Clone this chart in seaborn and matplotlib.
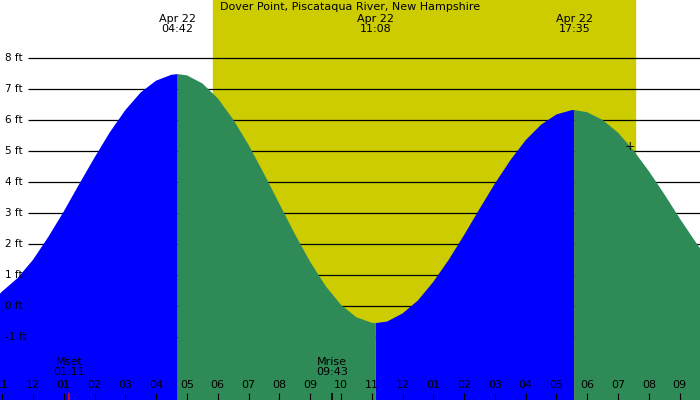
import matplotlib
matplotlib.use("Agg")
import matplotlib.pyplot as plt
import numpy as np
import pandas as pd
import seaborn as sns

# tide height (ft), hours since midnight Apr 22
hours = [-1.07, -1, -0.5, 0, 0.5, 1, 1.5, 2, 2.5, 3, 3.5, 4, 4.5, 4.7,
         5, 5.5, 6, 6.5, 7, 7.5, 8, 8.5, 9, 9.5, 10, 10.5, 11, 11.13,
         11.5, 12, 12.5, 13, 13.5, 14, 14.5, 15, 15.5, 16, 16.5, 17, 17.5, 17.58,
         18, 18.5, 19, 19.5, 20, 20.5, 21, 21.5, 22]
height = [0.40, 0.47, 0.90, 1.49, 2.23, 3.05, 3.93, 4.79, 5.61, 6.32, 6.89, 7.27, 7.46, 7.48,
          7.44, 7.18, 6.70, 6.02, 5.20, 4.27, 3.30, 2.33, 1.43, 0.65, 0.04, -0.36, -0.54, -0.55,
          -0.50, -0.24, 0.18, 0.78, 1.49, 2.29, 3.13, 3.95, 4.70, 5.35, 5.85, 6.18, 6.32, 6.32,
          6.25, 6.00, 5.59, 5.02, 4.35, 3.61, 2.83, 2.09, 1.40]
extreme_times = [4.7, 11.13, 17.58]
extreme_labels = ["04:42", "11:08", "17:35"]
daylight = (5.85, 19.55)
hour_ticks = list(range(-1, 22))
hour_labels = ["11", "12", "01", "02", "03", "04", "05", "06", "07", "08", "09", "10",
               "11", "12", "01", "02", "03", "04", "05", "06", "07", "08", "09"]
ft_levels = list(range(-1, 9))
moon = [("Mset", "01:11", 1.18), ("Mrise", "09:43", 9.72)]

df = pd.DataFrame({"t": hours, "h": height})
rising = ((df.t <= 4.7) | ((df.t >= 11.13) & (df.t <= 17.58)))
falling = ((df.t >= 4.7) & (df.t <= 11.13)) | (df.t >= 17.58)

sns.set_style("white")
plt.rcParams["font.family"] = ["DejaVu Sans"]
plt.rcParams["text.color"] = "black"
fig = plt.figure(figsize=(7, 4), dpi=100)
ax = fig.add_axes([0, 0, 1, 1])
ax.set_facecolor("#c0c0c0")
x0, x1, y0, y1 = -1.07, 21.66, -3.03, 9.87
ax.set_xlim(x0, x1)
ax.set_ylim(y0, y1)
ax.axvspan(*daylight, color="#cccc00", zorder=0)
for lv in ft_levels:
    ax.hlines(lv, -0.15, x1, color="black", lw=0.9, zorder=1)
    ax.text(-0.9, lv, f"{lv} ft", fontsize=7.5, va="center", ha="left", zorder=5)

ax.fill_between(df.t, df.h, y0, where=rising, color="#0000ff", lw=0, zorder=2)
ax.fill_between(df.t, df.h, y0, where=falling, color="#2e8b57", lw=0, zorder=2)

for tt, lab in zip(extreme_times, extreme_labels):
    ax.text(tt, 9.1, f"Apr 22\n{lab}", ha="center", va="center", fontsize=8, linespacing=1.0)
ax.text(10.3, 9.63, "Dover Point, Piscataqua River, New Hampshire", ha="center",
        va="center", fontsize=8)
ax.text(19.38, 5.13, "+", ha="center", va="center", fontsize=9)

for tt, lab in zip(hour_ticks, hour_labels):
    ax.text(tt, -2.55, lab, ha="center", va="center", fontsize=8)
    ax.vlines(tt, y0, -2.82, color="black", lw=0.8, zorder=3)
for name, tm, tt in moon:
    ax.text(tt, -1.97, f"{name}\n{tm}", ha="center", va="center", fontsize=8, linespacing=1.0)
ax.vlines(moon[0][2], y0, -2.82, color="red", lw=1.2, zorder=4)
ax.vlines(moon[1][2], y0, -2.82, color="black", lw=1.2, zorder=4)

ax.axis("off")
fig.savefig("out.png", dpi=100)
